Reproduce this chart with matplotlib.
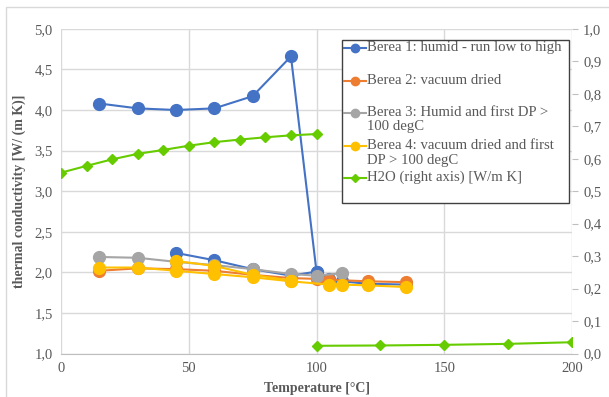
import numpy as np
import matplotlib
matplotlib.use('Agg')
import matplotlib.pyplot as plt
from matplotlib.lines import Line2D
from matplotlib.patches import Rectangle
from matplotlib.ticker import FuncFormatter, MultipleLocator

# Berea 1: humid - run low to high (main run plus second low segment)
b1_temp = [15, 30, 45, 60, 75, 90, 100, 105, 110, 120, 135]
b1_k = [4.08, 4.02, 4.00, 4.02, 4.17, 4.66, 2.01, 1.92, 1.89, 1.86, 1.85]
b1b_temp = [45, 60, 75, 90, 100]
b1b_k = [2.24, 2.15, 2.04, 1.96, 2.01]

# Berea 2: vacuum dried
b2_temp = [15, 30, 45, 60, 75, 90, 100, 105, 120, 135]
b2_k = [2.02, 2.05, 2.04, 2.02, 1.97, 1.93, 1.92, 1.91, 1.89, 1.88]

# Berea 3: humid and first DP > 100 degC
b3_temp = [15, 30, 45, 60, 75, 90, 100, 110]
b3_k = [2.19, 2.18, 2.13, 2.09, 2.04, 1.98, 1.96, 1.99]

# Berea 4: vacuum dried and first DP > 100 degC
b4_temp = [15, 30, 45, 60, 75, 90, 105, 110, 120, 135]
b4_k = [2.06, 2.06, 2.02, 1.98, 1.94, 1.89, 1.85, 1.85, 1.84, 1.82]
b4b_temp = [45, 60, 75, 90]
b4b_k = [2.14, 2.08, 1.97, 1.90]

# H2O (right axis): liquid up to 100 degC, then steam (gap between them)
h2o_liq_temp = [0, 10, 20, 30, 40, 50, 60, 70, 80, 90, 100]
h2o_liq_k = [0.557, 0.578, 0.598, 0.615, 0.627, 0.640, 0.651, 0.659, 0.666, 0.672, 0.676]
h2o_gas_temp = [100, 125, 150, 175, 200]
h2o_gas_k = [0.024, 0.025, 0.027, 0.030, 0.035]
h2o_temp = h2o_liq_temp + [np.nan] + h2o_gas_temp
h2o_k = h2o_liq_k + [np.nan] + h2o_gas_k

labels = ['Berea 1: humid - run low to high',
          'Berea 2: vacuum dried',
          'Berea 3: Humid and first DP >\n100 degC',
          'Berea 4: vacuum dried and first\nDP > 100 degC',
          'H2O (right axis) [W/m K]']

blue = '#4472C4'
orange = '#ED7D31'
gray = '#A5A5A5'
yellow = '#FFC000'
green = '#66CC00'
txt = '#595959'

plt.rcParams['font.family'] = ['Liberation Serif', 'DejaVu Serif']

fig = plt.figure(figsize=(6.09, 3.97), dpi=100)
ax = fig.add_axes([61 / 609, 1 - 353.6 / 397, 511 / 609, 324.8 / 397])

ms = 8.5
lw = 1.5
ax.plot(b1_temp, b1_k, '-o', color=blue, lw=lw, ms=ms)
ax.plot(b1b_temp, b1b_k, '-o', color=blue, lw=lw, ms=ms)
ax.plot(b2_temp, b2_k, '-o', color=orange, lw=lw, ms=ms)
ax.plot(b3_temp, b3_k, '-o', color=gray, lw=lw, ms=ms)
ax.plot(b4_temp, b4_k, '-o', color=yellow, lw=lw, ms=ms)
ax.plot(b4b_temp, b4b_k, '-o', color=yellow, lw=lw, ms=ms)

ax.set_xlim(0, 200)
ax.set_ylim(1.0, 5.0)
ax.xaxis.set_major_locator(MultipleLocator(50))
ax.yaxis.set_major_locator(MultipleLocator(0.5))
ax.yaxis.set_major_formatter(FuncFormatter(lambda v, p: f'{v:.1f}'.replace('.', ',')))
ax.grid(True, color='#D9D9D9', lw=1)
ax.set_axisbelow(True)
for s in ['top', 'right', 'left']:
    ax.spines[s].set_visible(False)
ax.spines['bottom'].set_color('#BFBFBF')
ax.tick_params(axis='both', length=0, labelsize=10.5, colors=txt, pad=6)
ax.set_xlabel('Temperature [°C]', fontsize=10, fontweight='bold', color=txt, labelpad=5)
ax.set_ylabel('thermal conductivity [W/ (m K)]', fontsize=10, fontweight='bold', color=txt, labelpad=6)

ax2 = ax.twinx()
ax2.plot(h2o_temp, h2o_k, '-D', color=green, lw=lw, ms=5.5)
ax2.set_ylim(0, 1.0)
ax2.yaxis.set_major_locator(MultipleLocator(0.1))
ax2.yaxis.set_major_formatter(FuncFormatter(lambda v, p: f'{v:.1f}'.replace('.', ',')))
for s in ['top', 'right', 'left', 'bottom']:
    ax2.spines[s].set_visible(False)
ax2.tick_params(axis='y', length=4, labelsize=10.5, colors=txt, pad=4)
ax2.tick_params(axis='y', color='#BFBFBF')

# legend drawn by hand in figure pixels (Excel style, marker on first line)
W, H = 609, 397
fig.add_artist(Rectangle((342 / W, 1 - 203 / H), 227 / W, 163 / H, transform=fig.transFigure,
                         fill=True, facecolor='white', edgecolor='#404040', lw=1, zorder=5))
entry_y = [48, 81, 113, 146, 178]
styles = [(blue, 'o', 6), (orange, 'o', 6), (gray, 'o', 6), (yellow, 'o', 6), (green, 'D', 4)]
for yy, lab, (c, m, s) in zip(entry_y, labels, styles):
    yf = 1 - yy / H
    fig.add_artist(Line2D([344 / W, 366 / W], [yf, yf], color=c, lw=lw, transform=fig.transFigure, zorder=6))
    fig.add_artist(Line2D([355 / W], [yf], color=c, marker=m, ms=s, transform=fig.transFigure, zorder=6))
    fig.text(367 / W, 1 - (yy - 7) / H, lab, fontsize=10.6, color=txt, va='top', ha='left',
             linespacing=1.15, zorder=7)

# chart area border
fig.add_artist(Rectangle((6 / W, -0.1), 1.2, (397 - 7) / H + 0.1, transform=fig.transFigure,
                         fill=False, edgecolor='#D9D9D9', lw=1))

fig.savefig('out.png', dpi=100)
